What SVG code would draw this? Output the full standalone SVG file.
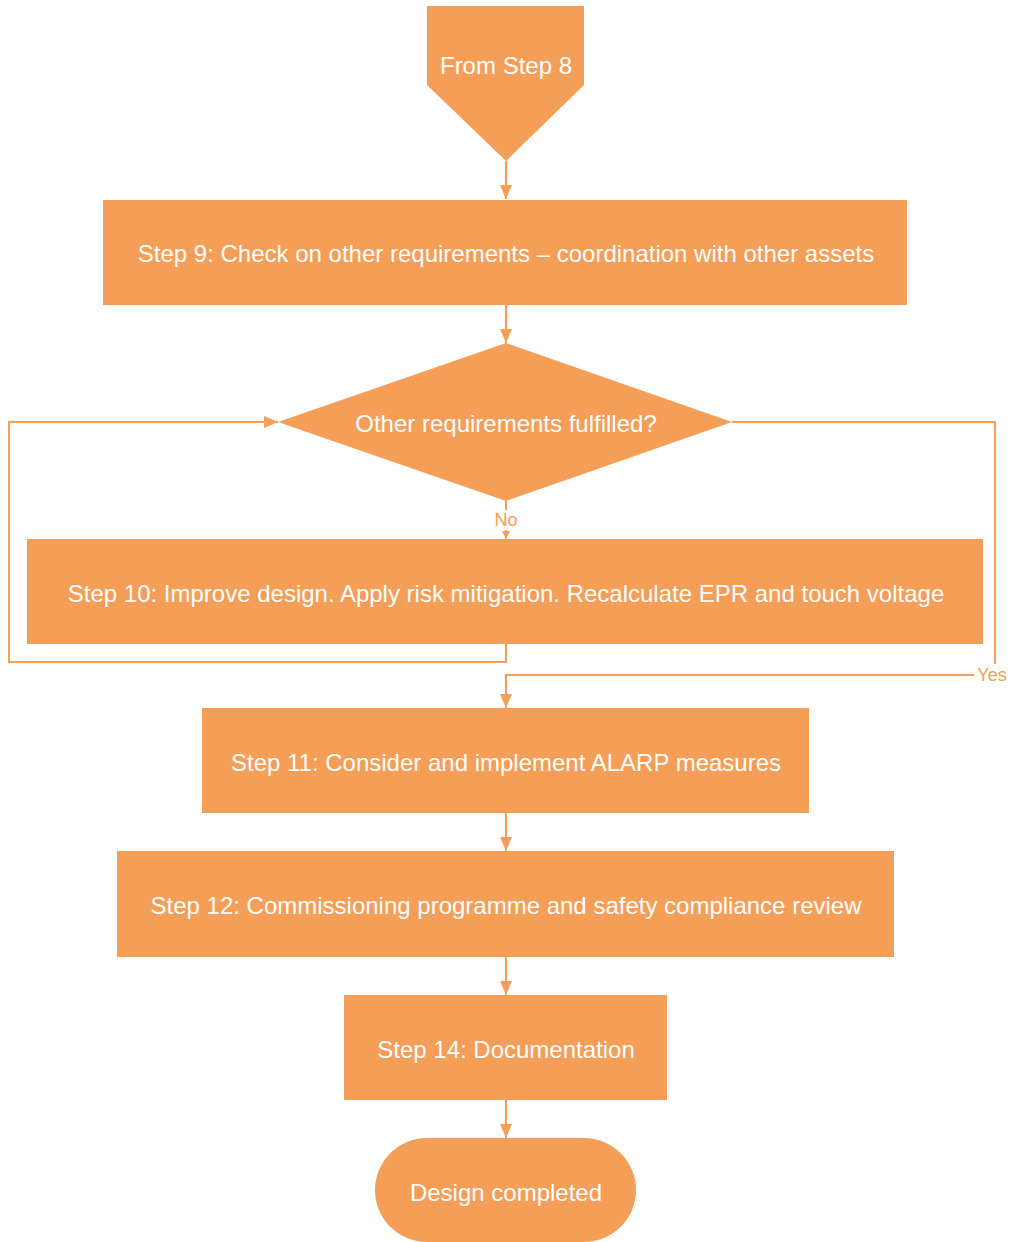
<svg xmlns="http://www.w3.org/2000/svg" width="1013" height="1242" viewBox="0 0 1013 1242">
<defs>
<style>
.n{fill:#F49E58;}
.t{fill:#FFFFFF;font-family:"Liberation Sans",Arial,sans-serif;font-size:24px;text-anchor:middle;dominant-baseline:central;}
.e{fill:none;stroke:#F49E58;stroke-width:2;}
.l{fill:#F49E58;font-family:"Liberation Sans",Arial,sans-serif;font-size:18px;text-anchor:middle;dominant-baseline:central;}
</style>
<marker id="a" markerWidth="14" markerHeight="12" refX="14" refY="6" orient="auto" markerUnits="userSpaceOnUse">
<path d="M0,0 L14,6 L0,12 Z" fill="#F49E58"/>
</marker>
<marker id="s" markerWidth="8" markerHeight="8" refX="8" refY="4" orient="auto" markerUnits="userSpaceOnUse">
<path d="M0,0 L8,4 L0,8 Z" fill="#F49E58"/>
</marker>
</defs>
<rect width="1013" height="1242" fill="#FFFFFF"/>
<g id="connectors">
<path class="e" d="M506,161 L506,199" marker-end="url(#a)"/>
<path class="e" d="M506,305 L506,343" marker-end="url(#a)"/>
<path class="e" d="M506,501 L506,539" marker-end="url(#s)"/>
<rect x="491" y="510" width="30" height="20" fill="#FFFFFF"/>
<text class="l" x="506" y="520">No</text>
<path class="e" d="M506,644 L506,662 L9,662 L9,422 L278,422" marker-end="url(#a)"/>
<path class="e" d="M732,422 L995,422 L995,675 L506,675 L506,708" marker-end="url(#a)"/>
<rect x="974" y="664" width="36" height="22" fill="#FFFFFF"/>
<text class="l" x="992" y="675">Yes</text>
<path class="e" d="M506,813 L506,851" marker-end="url(#a)"/>
<path class="e" d="M506,957 L506,995" marker-end="url(#a)"/>
<path class="e" d="M506,1100 L506,1138" marker-end="url(#a)"/>
</g>
<g id="from8">
<polygon class="n" points="427,6 584,6 584,85 506,161 427,85"/>
<text class="t" x="506" y="65">From Step 8</text>
</g>
<g id="step9">
<rect class="n" x="103" y="200" width="804" height="105"/>
<text class="t" x="506" y="253">Step 9: Check on other requirements – coordination with other assets</text>
</g>
<g id="decision">
<polygon class="n" points="506,343 732,422 506,501 278,422"/>
<text class="t" x="506" y="423">Other requirements fulfilled?</text>
</g>
<g id="step10">
<rect class="n" x="27" y="539" width="956" height="105"/>
<text class="t" x="506" y="593">Step 10: Improve design. Apply risk mitigation. Recalculate EPR and touch voltage</text>
</g>
<g id="step11">
<rect class="n" x="202" y="708" width="607" height="105"/>
<text class="t" x="506" y="762">Step 11: Consider and implement ALARP measures</text>
</g>
<g id="step12">
<rect class="n" x="117" y="851" width="777" height="106"/>
<text class="t" x="506" y="905">Step 12: Commissioning programme and safety compliance review</text>
</g>
<g id="step14">
<rect class="n" x="344" y="995" width="323" height="105"/>
<text class="t" x="506" y="1049">Step 14: Documentation</text>
</g>
<g id="done">
<rect class="n" x="375" y="1138" width="261" height="104" rx="52" ry="52"/>
<text class="t" x="506" y="1192">Design completed</text>
</g>
</svg>
